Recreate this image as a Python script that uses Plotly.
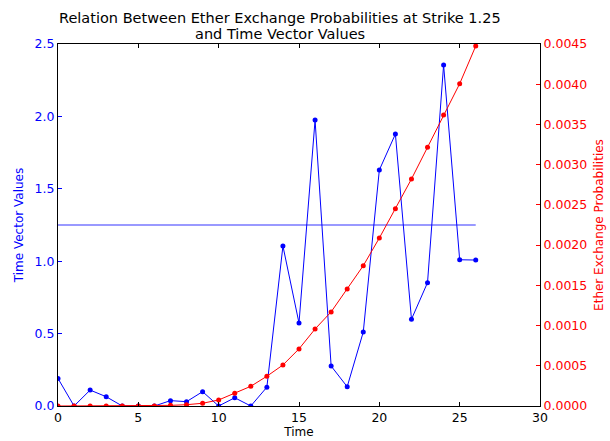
import plotly.graph_objects as go

time_idx = list(range(27))
time_vector_values = [0.19, 0.0, 0.11, 0.064, 0.0, 0.0, 0.0, 0.037, 0.03, 0.099, 0.0, 0.057, 0.0, 0.13,
                      1.105, 0.573, 1.975, 0.276, 0.133, 0.511, 1.63, 1.878, 0.599, 0.852, 2.355, 1.01, 1.008]
ether_probs = [0.0, 0.0, 0.0, 0.0, 0.0, 0.0, 0.0, 0.000008, 0.000016, 0.000034, 0.000075, 0.000158,
               0.000245, 0.00037, 0.00051, 0.00071, 0.000957, 0.00117, 0.001454, 0.001744, 0.002088,
               0.002453, 0.002822, 0.003216, 0.003617, 0.004006, 0.004474]
strike = 1.25
strike_x = [0, 26]
title_lines = ["Relation Between Ether Exchange Probabilities at Strike 1.25", "and Time Vector Values"]

FONT = "DejaVu Sans"
W, H = 610, 441
L, R, T, B = 58, 70, 44, 35
PH = H - T - B
PW = W - L - R

fig = go.Figure()
fig.add_trace(go.Scatter(x=time_idx, y=time_vector_values, mode="lines+markers",
                         line=dict(color="blue", width=1), marker=dict(color="blue", size=5),
                         yaxis="y", showlegend=False))
fig.add_trace(go.Scatter(x=strike_x, y=[strike, strike], mode="lines",
                         line=dict(color="rgba(0,0,255,0.8)", width=1), yaxis="y", showlegend=False))
fig.add_trace(go.Scatter(x=time_idx, y=ether_probs, mode="lines+markers",
                         line=dict(color="red", width=1), marker=dict(color="red", size=5),
                         yaxis="y2", showlegend=False))

for txt, ypix in zip(title_lines, [18, 34]):
    fig.add_annotation(text=txt, xref="paper", yref="paper", x=(280 - L) / PW,
                       y=(H - B - ypix) / PH,
                       showarrow=False, xanchor="center", yanchor="middle",
                       font=dict(family=FONT, size=14.5, color="black"))

fig.update_layout(
    width=W, height=H,
    margin=dict(l=L, r=R, t=T, b=B, autoexpand=False),
    paper_bgcolor="white", plot_bgcolor="white",
    font=dict(family=FONT, size=12, color="black"),
    xaxis=dict(range=[0, 30], dtick=5, tick0=0, ticks="inside", ticklen=4, tickcolor="black",
               showline=True, linecolor="black", linewidth=1, mirror="ticks", showgrid=False,
               zeroline=False, automargin=False, title=dict(text="Time", standoff=3, font=dict(size=12)),
               tickfont=dict(size=12.5)),
    yaxis=dict(range=[0, 2.5], dtick=0.5, tick0=0, tickformat=".1f", ticks="inside", ticklen=4,
               tickcolor="blue", tickfont=dict(color="blue", size=12.5), automargin=False,
               showline=True, linecolor="black", linewidth=1, showgrid=False, zeroline=False,
               title=dict(text="Time Vector Values", font=dict(color="blue", size=12), standoff=8)),
    yaxis2=dict(range=[0, 0.0045], dtick=0.0005, tick0=0, tickformat=".4f", overlaying="y", side="right",
                ticks="inside", ticklen=4, tickcolor="red", tickfont=dict(color="red", size=12.5),
                showline=True, linecolor="black", linewidth=1, showgrid=False, zeroline=False,
                automargin=False,
                title=dict(text="Ether Exchange Probabilities", font=dict(color="red", size=12), standoff=8)),
)

fig.write_html("out.html")
